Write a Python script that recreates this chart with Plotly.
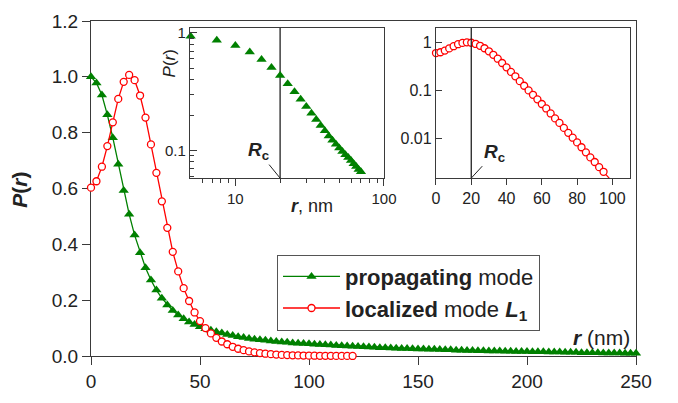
import math
import plotly.graph_objects as go

# ---------------- data ----------------
r_prop = [i * 2.5 for i in range(101)]  # 0 .. 250 nm
P_prop = [1.000, 0.978, 0.935, 0.864, 0.782, 0.687, 0.593, 0.508, 0.433, 0.370,
          0.316, 0.272, 0.236, 0.207, 0.183, 0.163, 0.147, 0.133, 0.122, 0.113,
          0.105, 0.098, 0.092, 0.087, 0.082, 0.077, 0.073, 0.069, 0.066, 0.063,
          0.060, 0.058, 0.056, 0.054, 0.052, 0.050, 0.049, 0.047, 0.046, 0.045,
          0.044, 0.042, 0.041, 0.040, 0.039, 0.038, 0.037, 0.036, 0.035, 0.034,
          0.033, 0.032, 0.031, 0.030, 0.030, 0.029, 0.028, 0.027, 0.027, 0.026,
          0.025, 0.025, 0.024, 0.024, 0.023, 0.022, 0.022, 0.021, 0.021, 0.020,
          0.020, 0.019, 0.019, 0.018, 0.018, 0.018, 0.017, 0.017, 0.016, 0.016,
          0.016, 0.015, 0.015, 0.015, 0.014, 0.014, 0.014, 0.013, 0.013, 0.013,
          0.012, 0.012, 0.012, 0.012, 0.011, 0.011, 0.011, 0.011, 0.010, 0.010,
          0.010]

r_loc = [i * 2.5 for i in range(49)]  # 0 .. 120 nm
P_loc = [0.603, 0.626, 0.678, 0.752, 0.837, 0.921, 0.982, 1.007, 0.988, 0.933,
         0.854, 0.758, 0.656, 0.554, 0.459, 0.373, 0.303, 0.243, 0.197, 0.156,
         0.125, 0.100, 0.081, 0.065, 0.052, 0.042, 0.033, 0.026, 0.021, 0.0165,
         0.0130, 0.0103, 0.0082, 0.0065, 0.0051, 0.0040, 0.0032, 0.0025, 0.0020, 0.0016,
         0.00125, 0.00099, 0.00078, 0.00062, 0.00049, 0.00039, 0.00031, 0.00024, 0.00019]

R_c = 20  # nm

main_xticks = [0, 50, 100, 150, 200, 250]
main_yticks = [0.0, 0.2, 0.4, 0.6, 0.8, 1.0, 1.2]
in1_xticks = [10, 100]
in1_xminor = [6, 7, 8, 9, 20, 30, 40, 50, 60, 70, 80, 90]
in1_yticks = [0.1, 1]
in1_yminor = [0.06, 0.07, 0.08, 0.09, 0.2, 0.3, 0.4, 0.5, 0.6, 0.7, 0.8, 0.9]
in2_xticks = [0, 20, 40, 60, 80, 100]
in2_yticks = [0.01, 0.1, 1]

GREEN = "#008000"
RED = "#ff0000"
AX = "#3a3a3a"
TXT = "#222222"
FONT = "Liberation Sans, Arial, sans-serif"

in1_xrange = [0.695, 2.0]
in1_yrange = [-1.235, 0.041]
in2_yrange = [-2.831, 0.302]

fig = go.Figure()

# main traces
fig.add_trace(go.Scatter(
    x=r_prop, y=P_prop, mode="lines+markers", name="<b>propagating</b> mode",
    line=dict(color=GREEN, width=1.3),
    marker=dict(symbol="triangle-up", size=9, color=GREEN),
    cliponaxis=False))
fig.add_trace(go.Scatter(
    x=r_loc, y=P_loc, mode="lines+markers",
    name="<b>localized</b> mode <b><i>L</i><sub>1</sub></b>",
    line=dict(color=RED, width=1.3),
    marker=dict(symbol="circle", size=7, color="white", line=dict(color=RED, width=1.3)),
    cliponaxis=False))

# inset 1: log-log, propagating mode
fig.add_trace(go.Scatter(
    x=[R_c, R_c], y=[10 ** in1_yrange[0], 10 ** in1_yrange[1]], mode="lines",
    xaxis="x2", yaxis="y2", showlegend=False, hoverinfo="skip",
    line=dict(color="#222222", width=1.3)))
in1_r = [r for r in r_prop if 5 <= r <= 70]
in1_P = [p for r, p in zip(r_prop, P_prop) if 5 <= r <= 70]
fig.add_trace(go.Scatter(
    x=in1_r, y=in1_P, mode="markers", xaxis="x2", yaxis="y2", showlegend=False,
    marker=dict(symbol="triangle-up", size=9, color=GREEN), cliponaxis=False))

# inset 2: log-lin, localized mode
fig.add_trace(go.Scatter(
    x=r_loc, y=P_loc, mode="lines", xaxis="x3", yaxis="y3", showlegend=False,
    line=dict(color=RED, width=1.2)))
in2_r = [r for r in r_loc if r <= 95]
in2_P = [p for r, p in zip(r_loc, P_loc) if r <= 95]
fig.add_trace(go.Scatter(
    x=in2_r, y=in2_P, mode="markers", xaxis="x3", yaxis="y3", showlegend=False,
    marker=dict(symbol="circle", size=7, color="white", line=dict(color=RED, width=1.3)),
    cliponaxis=False))

axis_common = dict(showline=True, linecolor=AX, linewidth=1.3, mirror=True,
                   showgrid=False, zeroline=False, tickcolor=AX, tickwidth=1.2,
                   tickfont=dict(family=FONT, size=16, color=TXT))

fig.update_layout(
    width=678, height=403,
    margin=dict(l=91, r=42, t=11, b=45),
    paper_bgcolor="white", plot_bgcolor="white",
    font=dict(family=FONT, color=TXT),
    xaxis=dict(axis_common, range=[0, 250], tickvals=main_xticks, ticks="outside", ticklen=8,
               layer="below traces",
               tickfont=dict(family=FONT, size=19, color=TXT)),
    yaxis=dict(axis_common, range=[0, 1.2], tickvals=main_yticks, tickformat=".1f",
               ticks="outside", ticklen=8, layer="below traces",
               tickfont=dict(family=FONT, size=19, color=TXT)),
    xaxis2=dict(axis_common, type="log", range=in1_xrange, domain=[0.1817, 0.5376],
                anchor="y2", tickvals=in1_xticks, ticktext=["10", "100"], ticks="outside", ticklen=7,
                tickfont=dict(family=FONT, size=15, color=TXT),
                minor=dict(tickvals=in1_xminor, ticks="outside", ticklen=4, tickcolor=AX)),
    yaxis2=dict(axis_common, type="log", range=in1_yrange, domain=[0.531, 0.979],
                anchor="x2", tickvals=in1_yticks, ticktext=["0.1", "1"], ticks="inside", ticklen=7,
                tickfont=dict(family=FONT, size=15, color=TXT),
                minor=dict(tickvals=in1_yminor, ticks="inside", ticklen=4, tickcolor=AX)),
    xaxis3=dict(axis_common, range=[0, 110], domain=[0.633, 0.989], anchor="y3",
                tickvals=in2_xticks, ticks="outside", ticklen=6),
    yaxis3=dict(axis_common, type="log", range=in2_yrange, domain=[0.531, 0.979],
                anchor="x3", tickvals=in2_yticks, ticktext=["0.01", "0.1", "1"],
                ticks="inside", ticklen=6),
    legend=dict(x=0.3413, y=0.3027, xanchor="left", yanchor="top",
                bgcolor="white", bordercolor="#555555", borderwidth=1,
                font=dict(family=FONT, size=22, color=TXT), itemwidth=57),
    showlegend=True,
    hovermode=False,
)

# R_c line in inset 2
fig.add_shape(type="line", xref="x3", yref="y3 domain", x0=R_c, x1=R_c,
              y0=0, y1=1, line=dict(color="#222222", width=1.3))

rc_text = "<b><i>R</i><sub>c</sub></b>"
fig.add_annotation(x=math.log10(R_c), y=in1_yrange[0], xref="x2", yref="y2", text=rc_text,
                   showarrow=True, arrowhead=0, arrowwidth=1, arrowcolor="#222222",
                   ax=-22, ay=-27, font=dict(family=FONT, size=19, color=TXT))
fig.add_annotation(x=R_c, y=in2_yrange[0], xref="x3", yref="y3", text=rc_text,
                   showarrow=True, arrowhead=0, arrowwidth=1, arrowcolor="#222222",
                   ax=23, ay=-25, font=dict(family=FONT, size=19, color=TXT))

# axis titles as text
ann_common = dict(xref="paper", yref="paper", showarrow=False, xanchor="center", yanchor="middle")
fig.add_annotation(ann_common, x=-0.1303, y=0.4964,
                   text="<b><i>P</i>(<i>r</i>)</b>", textangle=-90,
                   font=dict(family=FONT, size=21, color=TXT))
fig.add_annotation(ann_common, x=0.9376, y=0.0561,
                   text="<b><i>r</i></b> (nm)", font=dict(family=FONT, size=21, color=TXT))
fig.add_annotation(ann_common, x=0.1431, y=0.8734,
                   text="<i>P</i>(<i>r</i>)", textangle=-90,
                   font=dict(family=FONT, size=17, color=TXT))
fig.add_annotation(ann_common, x=0.4055, y=0.4475,
                   text="<b><i>r</i></b>, nm", font=dict(family=FONT, size=18, color=TXT))

fig.write_html("out.html", config={"displayModeBar": False},
               post_script="document.body.style.margin='0px';")
